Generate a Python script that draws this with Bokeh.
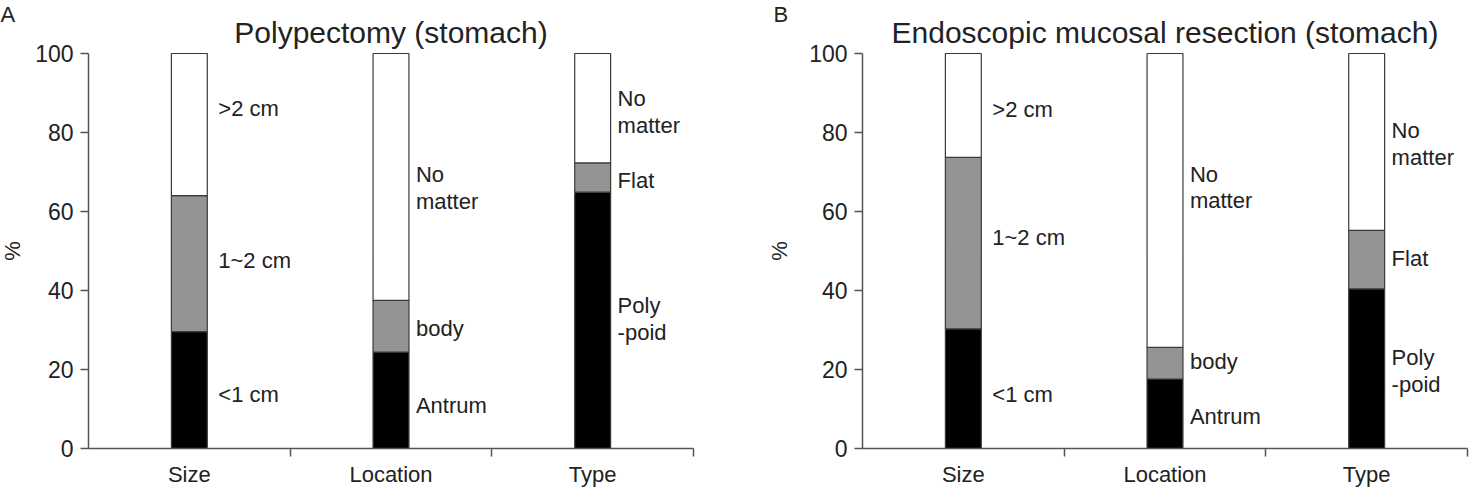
from bokeh.plotting import figure
from bokeh.layouts import row
from bokeh.models import FixedTicker, Range1d, ColumnDataSource
from bokeh.embed import file_html
from bokeh.resources import INLINE
from bokeh.core.properties import value

# ---------------- data ----------------
categories = ["Size", "Location", "Type"]
segment_labels = [
    ["<1 cm", "1~2 cm", ">2 cm"],
    ["Antrum", "body", "No\nmatter"],
    ["Poly\n-poid", "Flat", "No\nmatter"],
]

# Panel A: Polypectomy (stomach)  -- %, bottom -> top segments
poly_black = [29.6, 24.4, 64.9]
poly_gray = [34.4, 13.1, 7.4]
poly_white = [36.0, 62.5, 27.7]

# Panel B: Endoscopic mucosal resection (stomach)
emr_black = [30.3, 17.6, 40.4]
emr_gray = [43.4, 8.0, 14.8]
emr_white = [26.3, 74.4, 44.8]

y_ticks = [0, 20, 40, 60, 80, 100]

# ---------------- style / layout ----------------
FONT = "Liberation Sans"
TXT = "#222222"
AXIS = "#555555"
SEG_COLORS = ["#000000", "#949494", "#ffffff"]
BAR_W = 0.178
LABEL_GAP = [11, 7, 7]  # px gap between bar and its labels
NUDGE_A = [[4, -3, -16], [5, 2, 11], [-1, 3, 4]]
NUDGE_B = [[6, -6, 4], [3, -2, -13], [2, -1, 2]]

W, H = 737, 487
PLOT_TOP, PLOT_BOTTOM = 53, 448      # pixel rows of y=100 and y=0
PLOT_W = 605                         # pixel width of the three category slots
TITLE_MID = 32                       # pixel row of the title's middle
LETTER_MID = 14                      # pixel row of the panel letter's middle


def make_panel(title, letter, black, gray, white, axis_px, letter_px, nudges, pct_standoff):
    n = len(categories)
    xs = [i + 0.5 for i in range(n)]
    xpx = PLOT_W / n
    ypx = (PLOT_BOTTOM - PLOT_TOP) / 100.0
    x_range = Range1d(-axis_px / xpx, (W - axis_px) / xpx)
    y_range = Range1d(-(H - PLOT_BOTTOM) / ypx, PLOT_BOTTOM / ypx)

    p = figure(width=W, height=H, x_range=x_range, y_range=y_range,
               output_backend="svg", toolbar_location=None,
               min_border=0, min_border_left=0, min_border_right=0,
               min_border_top=0, min_border_bottom=0)
    p.outline_line_color = None
    p.xgrid.visible = False
    p.ygrid.visible = False
    p.background_fill_color = "white"
    p.border_fill_color = "white"

    src = ColumnDataSource(dict(x=xs, black=black, gray=gray, white=white))
    p.vbar_stack(["black", "gray", "white"], x="x", width=BAR_W, source=src,
                 fill_color=SEG_COLORS, line_color="#3a3a3a", line_width=1.2)

    # segment labels, placed at the middle of each segment
    lx, ly, lt, lxo, lyo = [], [], [], [], []
    for i in range(n):
        segs = [black[i], gray[i], white[i]]
        bottom = 0.0
        for j, s in enumerate(segs):
            lx.append(xs[i] + BAR_W / 2)
            ly.append(bottom + s / 2)
            lt.append(segment_labels[i][j])
            lxo.append(LABEL_GAP[i])
            lyo.append(nudges[i][j])
            bottom += s
    p.text(x=lx, y=ly, text=lt, x_offset=lxo, y_offset=lyo,
           text_font=value(FONT), text_font_size="22px", text_color=TXT,
           text_align="left", text_baseline="middle", text_line_height=1.07)

    # title and panel letter
    p.text(x=[n / 2], y=[(PLOT_BOTTOM - TITLE_MID) / ypx], text=[title],
           text_font=value(FONT), text_font_size="30px", text_color=TXT,
           text_align="center", text_baseline="middle")
    p.text(x=[(letter_px - axis_px) / xpx], y=[(PLOT_BOTTOM - LETTER_MID) / ypx],
           text=[letter], text_font=value(FONT), text_font_size="22px", text_color=TXT,
           text_align="left", text_baseline="middle")

    # x axis: category labels in the middle, ticks on the boundaries
    xa = p.xaxis[0]
    xa.fixed_location = 0
    xa.bounds = (0, n)
    xa.ticker = FixedTicker(ticks=xs, minor_ticks=[float(i + 1) for i in range(n)])
    xa.major_label_overrides = {x: c for x, c in zip(xs, categories)}
    xa.major_tick_line_color = None
    xa.major_tick_out = 0
    xa.major_tick_in = 0
    xa.minor_tick_out = 8
    xa.minor_tick_in = 0
    xa.minor_tick_line_color = AXIS
    xa.minor_tick_line_width = 1.5
    xa.axis_line_color = AXIS
    xa.axis_line_width = 1.5
    xa.major_label_standoff = 5
    xa.major_label_text_font = FONT
    xa.major_label_text_font_size = "22px"
    xa.major_label_text_color = TXT

    ya = p.yaxis[0]
    ya.fixed_location = 0
    ya.bounds = (0, 100)
    ya.ticker = FixedTicker(ticks=y_ticks, minor_ticks=[])
    ya.major_tick_out = 8
    ya.major_tick_in = 0
    ya.major_tick_line_color = AXIS
    ya.major_tick_line_width = 1.5
    ya.axis_line_color = AXIS
    ya.axis_line_width = 1.5
    ya.major_label_standoff = 7
    ya.major_label_text_font = FONT
    ya.major_label_text_font_size = "23px"
    ya.major_label_text_color = TXT
    ya.axis_label = "%"
    ya.axis_label_text_font = FONT
    ya.axis_label_text_font_size = "22px"
    ya.axis_label_text_font_style = "normal"
    ya.axis_label_text_color = TXT
    ya.axis_label_standoff = pct_standoff
    return p


pa = make_panel("Polypectomy (stomach)", "A", poly_black, poly_gray, poly_white,
                88, 0, NUDGE_A, 7)
pb = make_panel("Endoscopic mucosal resection (stomach)", "B", emr_black, emr_gray, emr_white,
                125, 36, NUDGE_B, 14)

layout = row(pa, pb)
open("out.html", "w").write(file_html(layout, INLINE))
